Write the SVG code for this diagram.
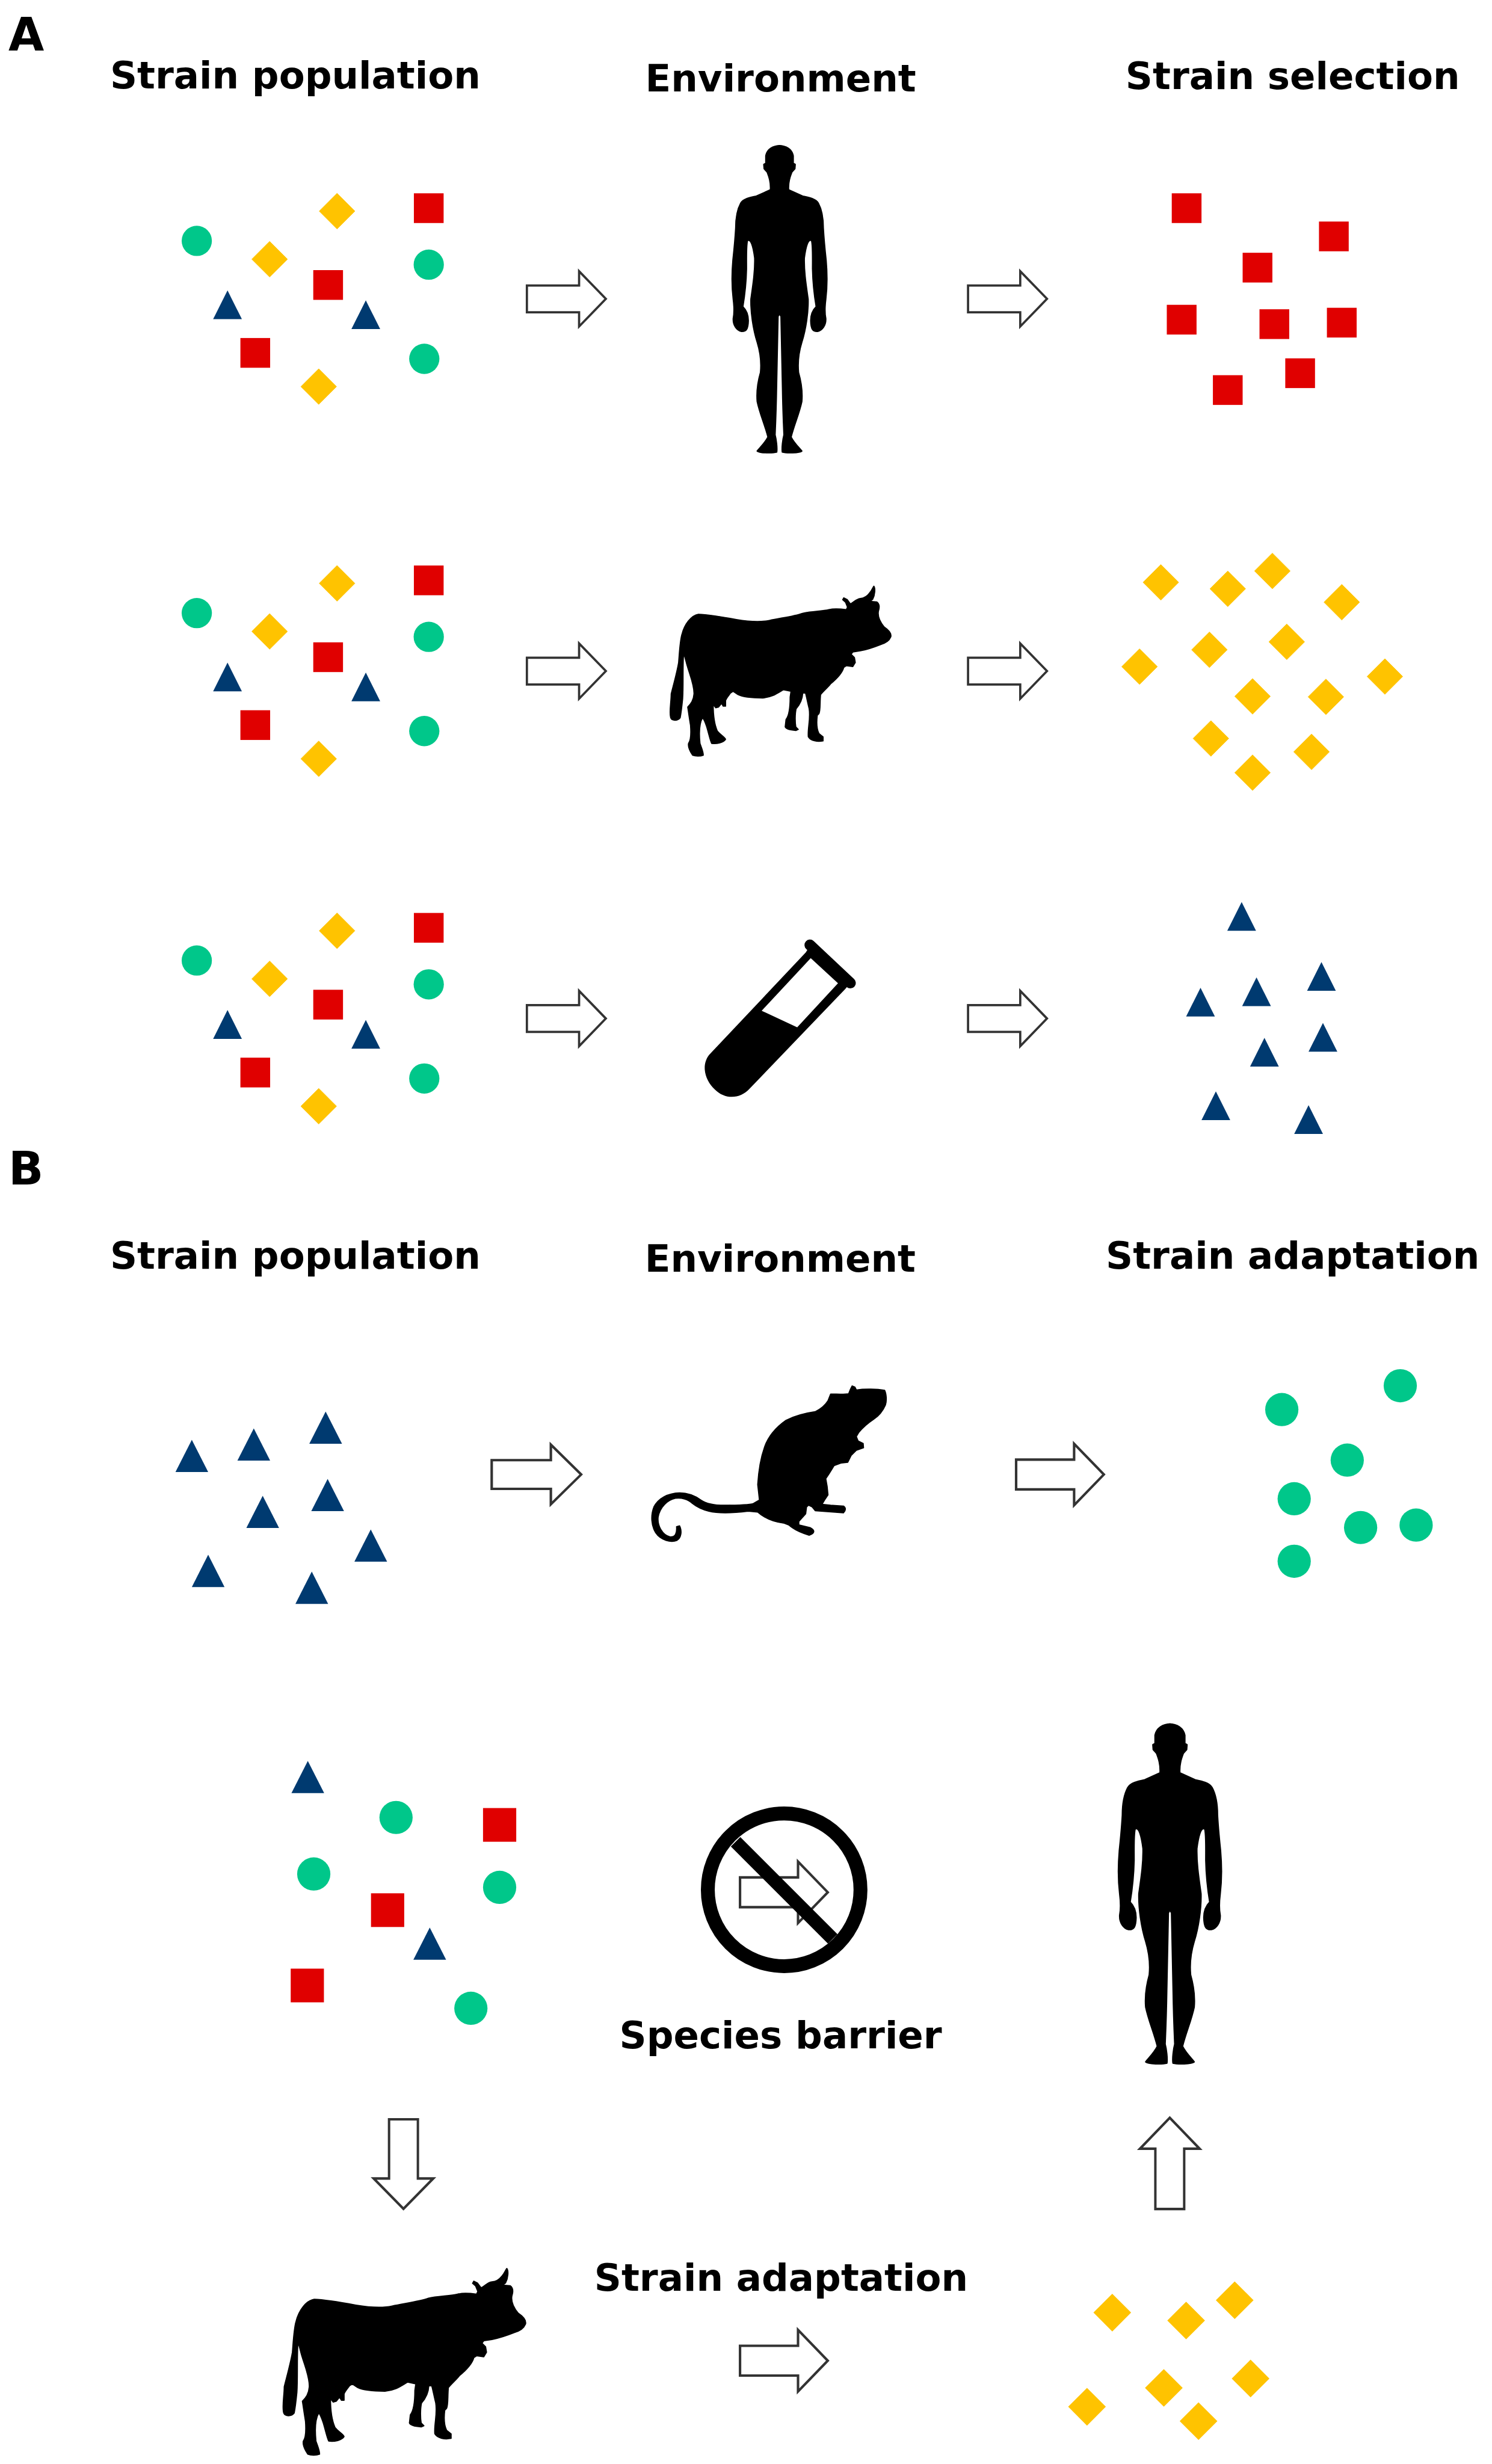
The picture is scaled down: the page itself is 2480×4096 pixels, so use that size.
<svg xmlns="http://www.w3.org/2000/svg" width="2480" height="4096" viewBox="0 0 2480 4096">
<style>
.t{font-family:"DejaVu Sans","Liberation Sans",sans-serif;font-weight:700;fill:#000;font-size:76px}
.m{text-anchor:middle}
.p{font-size:93px}
.r{fill:#e00000}
.y{fill:#ffc300}
.g{fill:#00c78a}
.n{fill:#003a70}
.k{fill:#000;stroke:#000;stroke-width:6;stroke-linejoin:round}
.a{fill:#fff;stroke:#333;stroke-width:5;stroke-linejoin:miter}
</style>
<defs>
<rect id="sq" class="r" x="-30" y="-30" width="60" height="60"/>
<rect id="sq2" class="r" x="-33.5" y="-34" width="67" height="68"/>
<polygon id="di" class="y" points="0,-36 36,0 0,36 -36,0" stroke="#ffc300" stroke-width="1" stroke-linejoin="round"/>
<polygon id="di2" class="y" points="0,-38 38,0 0,38 -38,0"/>
<polygon id="tr" class="n" points="0,0 29,58 -29,58"/>
<polygon id="tr2" class="n" points="0,0 33,65 -33,65"/>
<circle id="ci" class="g" r="30.5"/>
<circle id="ci2" class="g" r="33.5"/>
<path id="ar" class="a" d="M0 -30H117V-62L177 0L117 62V30H0Z"/>
<g id="pop">
<use href="#ci" x="397" y="486"/><use href="#di" x="680" y="426"/><use href="#sq" x="865" y="420"/>
<use href="#ci" x="865" y="534"/><use href="#di" x="544" y="523"/><use href="#sq" x="662" y="575"/>
<use href="#tr" x="459" y="586"/><use href="#tr" x="738" y="606"/><use href="#sq" x="515" y="712"/>
<use href="#ci" x="856" y="724"/><use href="#di" x="643" y="780"/>
</g>
<g id="halfbody">
<path class="k" d="M585 78C540 78 505 95 497 125L497 160L485 165L487 185L505 200C515 220 528 245 525 283C490 295 460 305 440 312C400 318 360 325 345 345C320 380 315 420 315 460C312 500 305 560 298 610C290 680 292 740 300 790C305 820 308 850 300 880C298 910 320 935 350 940C380 942 392 930 393 890C393 860 380 840 360 825C370 780 380 720 382 650C382 590 380 540 388 518C405 510 420 540 430 600C432 660 420 720 407 790C405 850 420 930 445 990C465 1040 470 1090 465 1130C450 1170 440 1220 445 1265C460 1320 490 1370 510 1430C490 1460 460 1480 445 1495C460 1505 540 1505 565 1500C569 1480 562 1440 555 1420C559 1350 562 1300 564 1200C567 1100 569 1000 573 870L585 855Z"/>
</g>
<g id="body"><use href="#halfbody"/><use href="#halfbody" transform="translate(1162 0) scale(-1 1)"/></g>
<path id="cowshape" class="k" d="M270 268C340 270 420 285 500 300C560 310 640 318 700 305C770 290 850 280 900 262C950 250 1020 250 1060 240C1090 232 1130 235 1165 240L1172 225L1160 195L1143 180L1150 168L1170 178L1190 205C1210 195 1225 175 1250 172C1275 170 1290 160 1305 140C1320 125 1325 105 1332 98C1342 110 1340 150 1325 178L1310 190L1350 193C1368 205 1368 225 1360 250C1355 280 1370 315 1395 345C1425 365 1440 385 1435 405C1425 430 1400 445 1370 453C1340 465 1300 480 1250 490L1205 497L1195 510L1215 530L1220 560L1205 585L1165 580L1150 590C1140 630 1100 665 1070 690C1050 715 1025 735 1010 755C1005 800 1010 850 1000 870L990 880C985 920 985 960 1000 990L1025 1010L1025 1035C990 1042 950 1035 935 1010C930 960 950 900 940 840C930 800 925 770 918 745L902 745C900 790 880 820 862 840C855 870 855 920 860 950L875 965L860 972C830 970 800 965 795 950L800 905C820 880 825 830 825 770L830 735L785 725C750 745 720 770 660 775C600 775 540 770 510 755L480 735L465 745C450 765 440 775 435 790L435 825L420 825L410 808L392 830L375 835L360 815C360 880 365 930 385 975C405 1000 430 1010 435 1025C425 1045 380 1055 350 1050C340 1030 335 1000 320 950C310 920 305 905 295 895C275 930 275 1000 280 1050C290 1080 300 1100 300 1122C280 1130 250 1128 235 1122C220 1100 205 1075 210 1050C225 1030 225 980 222 940C215 900 210 860 205 830C225 810 240 790 243 750C245 700 220 640 205 590C195 560 190 530 185 520L180 520C175 600 180 700 175 780C170 830 165 870 160 895C145 915 110 915 102 895C92 860 105 800 105 750C120 690 140 620 150 560C155 500 158 430 170 390C185 330 225 275 270 268Z"/>
</defs>
<rect width="2480" height="4096" fill="#fff"/>
<g transform="scale(0.8239)">
<g id="labels">
<text class="t p" x="17" y="102">A</text>
<text class="t" x="222" y="178">Strain population</text>
<text class="t m" x="1575" y="184">Environment</text>
<text class="t m" x="2608" y="180">Strain selection</text>
<text class="t p" x="17" y="2390">B</text>
<text class="t" x="222" y="2560">Strain population</text>
<text class="t m" x="1574" y="2566">Environment</text>
<text class="t m" x="2608" y="2560">Strain adaptation</text>
<text class="t m" x="1575" y="4133">Species barrier</text>
<text class="t m" x="1576" y="4622">Strain adaptation</text>
</g>
<g id="connectors">
<use href="#ar" transform="translate(1063 603) scale(.9)"/>
<use href="#ar" transform="translate(1953 603) scale(.9)"/>
<use href="#ar" transform="translate(1063 1354) scale(.9)"/>
<use href="#ar" transform="translate(1953 1354) scale(.9)"/>
<use href="#ar" transform="translate(1063 2055) scale(.9)"/>
<use href="#ar" transform="translate(1953 2055) scale(.9)"/>
<use href="#ar" transform="translate(992 2975) scale(1.02 .97)"/>
<use href="#ar" transform="translate(2050 2975)"/>
<use href="#ar" transform="translate(814 4276) rotate(90) scale(1.02 .97)"/>
<use href="#ar" transform="translate(2360 4457) rotate(-90) scale(1.04 .97)"/>
<use href="#ar" transform="translate(1493 4763)"/>
</g>
<g id="population-a1"><use href="#pop"/></g>
<g id="population-a2"><use href="#pop" y="751"/></g>
<g id="population-a3"><use href="#pop" y="1452"/></g>
<g id="human-a"><use href="#body" transform="translate(1379 260) scale(.3333 .4348)"/></g>
<g id="cow-a"><use href="#cowshape" transform="translate(1319 1150) scale(.3333)"/></g>
<g id="tube" transform="translate(1359 1850) scale(.3333)">
<path fill="#000" fill-rule="evenodd" d="M825 175L800 215L215 835C165 900 190 990 250 1045C310 1105 400 1105 460 1040L1040 435L1070 400ZM830 250L995 402L748 668L533 568Z"/>
<path d="M825 170L1070 400" stroke="#000" stroke-width="66" stroke-linecap="round" fill="none"/>
</g>
<g id="selection-red">
<use href="#sq" x="2394" y="420"/><use href="#sq" x="2691" y="477"/><use href="#sq" x="2537" y="540"/><use href="#sq" x="2384" y="645"/>
<use href="#sq" x="2571" y="654"/><use href="#sq" x="2707" y="651"/><use href="#sq" x="2623" y="753"/><use href="#sq" x="2477" y="787"/>
</g>
<g id="selection-yellow">
<use href="#di" x="2342" y="1175"/><use href="#di" x="2477" y="1188"/><use href="#di" x="2567" y="1152"/><use href="#di" x="2707" y="1215"/>
<use href="#di" x="2440" y="1311"/><use href="#di" x="2596" y="1295"/><use href="#di" x="2299" y="1345"/><use href="#di" x="2527" y="1405"/>
<use href="#di" x="2675" y="1406"/><use href="#di" x="2794" y="1365"/><use href="#di" x="2443" y="1490"/><use href="#di" x="2646" y="1517"/><use href="#di" x="2527" y="1559"/>
</g>
<g id="selection-blue">
<use href="#tr" x="2505" y="1820"/><use href="#tr" x="2666" y="1941"/><use href="#tr" x="2535" y="1972"/><use href="#tr" x="2422" y="1993"/>
<use href="#tr" x="2669" y="2064"/><use href="#tr" x="2551" y="2094"/><use href="#tr" x="2453" y="2202"/><use href="#tr" x="2640" y="2230"/>
</g>
<g id="population-b-blue">
<use href="#tr2" x="387" y="2905"/><use href="#tr2" x="512" y="2882"/><use href="#tr2" x="657" y="2848"/><use href="#tr2" x="661" y="2984"/>
<use href="#tr2" x="530" y="3018"/><use href="#tr2" x="748" y="3086"/><use href="#tr2" x="420" y="3137"/><use href="#tr2" x="629" y="3171"/>
</g>
<g id="rat" transform="translate(1288 2760) scale(.3462)">
<path class="k" d="M1235 125L1245 105L1262 112L1270 128C1320 120 1390 122 1435 130C1445 150 1448 190 1440 215C1425 250 1400 280 1370 300C1340 320 1310 345 1285 375L1270 400L1280 425L1310 440L1312 465L1270 480L1240 510L1220 550L1180 555L1140 570C1125 595 1110 620 1092 645L1100 690L1105 740L1085 770L1070 795L1120 800L1195 805C1210 815 1210 830 1195 845L1030 832L1012 810L992 800L980 810L975 850L935 895L935 915L1000 930C1030 945 1030 965 995 975C960 965 910 945 875 915L850 905C800 900 740 880 695 840L640 835C560 845 470 850 410 835C370 825 340 810 315 790C290 765 250 755 215 760C170 770 125 810 115 870C110 920 140 975 185 985C215 985 225 965 222 925L240 920C255 950 250 990 225 1005C190 1020 130 1005 100 960C75 920 70 860 90 810C115 760 170 730 240 728C290 728 330 745 365 770C395 790 440 800 500 800C560 800 640 800 670 790L705 770L695 680C700 600 710 530 735 460C760 390 810 340 860 305C910 280 960 265 1030 255C1060 240 1090 215 1105 190L1120 152C1160 152 1200 155 1225 150Z"/>
</g>
<g id="adaptation-green">
<use href="#ci2" x="2586" y="2844"/><use href="#ci2" x="2825" y="2796"/><use href="#ci2" x="2718" y="2946"/><use href="#ci2" x="2611" y="3024"/>
<use href="#ci2" x="2745" y="3082"/><use href="#ci2" x="2857" y="3077"/><use href="#ci2" x="2611" y="3150"/>
</g>
<g id="population-b-mixed">
<use href="#tr2" x="621" y="3553"/><use href="#ci2" x="799" y="3667"/><use href="#sq2" x="1008" y="3682"/><use href="#ci2" x="633" y="3781"/>
<use href="#ci2" x="1008" y="3808"/><use href="#sq2" x="782" y="3854"/><use href="#tr2" x="867" y="3889"/><use href="#sq2" x="620" y="4006"/><use href="#ci2" x="950" y="4052"/>
</g>
<g id="barrier">
<use href="#ar" transform="translate(1493 3818)"/>
<circle cx="1582" cy="3813" r="154" fill="none" stroke="#000" stroke-width="28"/>
<path d="M1484 3716L1680 3912" stroke="#000" stroke-width="27" fill="none"/>
</g>
<g id="human-b"><use href="#body" transform="translate(2150 3441) scale(.362 .481)"/></g>
<g id="cow-b"><use href="#cowshape" transform="translate(535 4541) scale(.366)"/></g>
<g id="adaptation-yellow">
<use href="#di2" x="2244" y="4666"/><use href="#di2" x="2393" y="4682"/><use href="#di2" x="2491" y="4641"/><use href="#di2" x="2348" y="4818"/>
<use href="#di2" x="2523" y="4799"/><use href="#di2" x="2193" y="4856"/><use href="#di2" x="2418" y="4885"/>
</g>
</g>
</svg>
